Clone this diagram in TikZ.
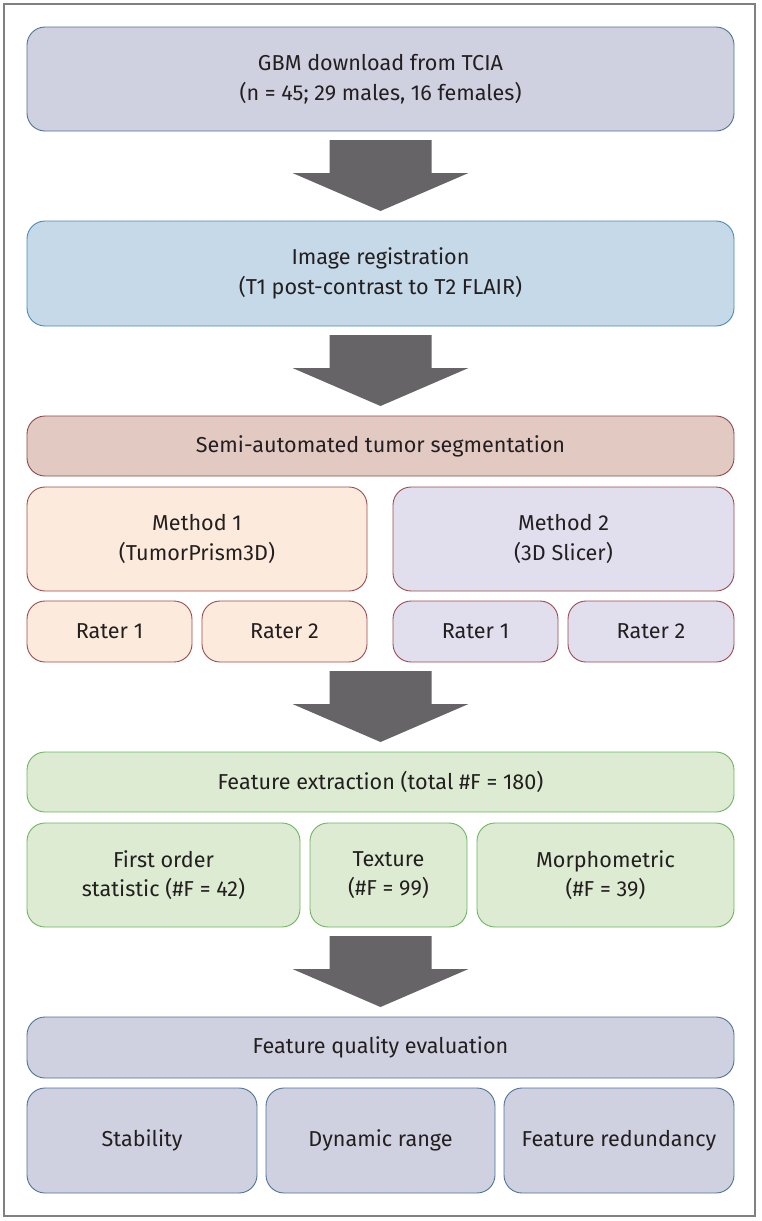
\documentclass[tikz,border=0pt]{standalone}
\usepackage{fontspec}
\setmainfont{Fira Sans}
\usetikzlibrary{calc}
\definecolor{bluegrayfill}{HTML}{CFD1E0}
\definecolor{bluegraydraw}{HTML}{4F7397}
\definecolor{lightbluefill}{HTML}{C6D9E8}
\definecolor{lightbluedraw}{HTML}{4A8AB5}
\definecolor{segfill}{HTML}{E2CAC3}
\definecolor{segdraw}{HTML}{8E4848}
\definecolor{peachfill}{HTML}{FCEADC}
\definecolor{lavfill}{HTML}{E1DFEE}
\definecolor{reddraw}{HTML}{9A4C4C}
\definecolor{greenfill}{HTML}{DCEBD1}
\definecolor{greendraw}{HTML}{6DB561}
\definecolor{arrowgray}{HTML}{666466}
\definecolor{framegray}{HTML}{808080}
\definecolor{textcol}{HTML}{231F20}
\tikzset{
  flowbox/.style={rounded corners=18pt, line width=0.9pt, inner sep=0pt, outer sep=0pt,
    align=center, text=textcol, font=\fontsize{21.6}{29.5}\selectfont, anchor=center},
  bgbox/.style={flowbox, fill=bluegrayfill, draw=bluegraydraw},
  lbbox/.style={flowbox, fill=lightbluefill, draw=lightbluedraw},
  segbox/.style={flowbox, fill=segfill, draw=segdraw},
  pbox/.style={flowbox, fill=peachfill, draw=reddraw},
  lbox/.style={flowbox, fill=lavfill, draw=reddraw},
  gbox/.style={flowbox, fill=greenfill, draw=greendraw},
}
\newcommand{\flowarrow}[2]{%
  \fill[arrowgray] ($(#1.south -| #2.north)+(-51,9)$) -- ($(#1.south -| #2.north)+(51,9)$)
    -- ($(#2.north)+(51,-48)$) -- ($(#2.north)+(88,-48)$) -- ($(#2.north)+(0,-10)$)
    -- ($(#2.north)+(-88,-48)$) -- ($(#2.north)+(-51,-48)$) -- cycle;}
\begin{document}
\begin{tikzpicture}[x=1pt,y=-1pt]
\useasboundingbox (0,0) rectangle (761,1221);
\draw[framegray, line width=1.5pt] (4,4) rectangle (755,1216);

\node[bgbox, minimum width=707pt, minimum height=104pt] (gbm) at (380.5,79)
  {GBM download from TCIA\\(n = 45; 29 males, 16 females)};
\node[lbbox, minimum width=707pt, minimum height=105pt] (reg) at (380.5,273.5)
  {Image registration\\(T1 post-contrast to T2 FLAIR)};
\node[segbox, minimum width=707pt, minimum height=60pt] (seg) at (380.5,446)
  {Semi-automated tumor segmentation};
\node[pbox, minimum width=340pt, minimum height=104pt] (m1) at (197,539)
  {Method 1\\(TumorPrism3D)};
\node[lbox, minimum width=341pt, minimum height=104pt] (m2) at (563.5,539)
  {Method 2\\(3D Slicer)};
\node[pbox, minimum width=165pt, minimum height=61pt] (r1a) at (109.5,631.5) {Rater 1};
\node[pbox, minimum width=165pt, minimum height=61pt] (r2a) at (284.5,631.5) {Rater 2};
\node[lbox, minimum width=165pt, minimum height=61pt] (r1b) at (475.5,631.5) {Rater 1};
\node[lbox, minimum width=166pt, minimum height=61pt] (r2b) at (651,631.5) {Rater 2};
\node[gbox, minimum width=707pt, minimum height=60pt] (fe) at (380.5,782)
  {Feature extraction (total \#F = 180)};
\node[gbox, minimum width=273pt, minimum height=104pt] (fo) at (163.5,875)
  {First order\\statistic (\#F = 42)};
\node[gbox, minimum width=157pt, minimum height=104pt] (tex) at (388.5,875)
  {Texture\\(\#F = 99)};
\node[gbox, minimum width=257pt, minimum height=104pt] (mor) at (605.5,875)
  {Morphometric\\(\#F = 39)};
\node[bgbox, minimum width=707pt, minimum height=61pt] (fq) at (380.5,1047.5)
  {Feature quality evaluation};
\node[bgbox, minimum width=230pt, minimum height=105pt] (stab) at (142,1140.5) {Stability};
\node[bgbox, minimum width=229pt, minimum height=105pt] (dyn) at (380.5,1140.5) {Dynamic range};
\node[bgbox, minimum width=230pt, minimum height=105pt] (red) at (619,1140.5) {Feature redundancy};

\flowarrow{gbm}{reg}
\flowarrow{reg}{seg}
\flowarrow{r2a}{fe}
\flowarrow{fo}{fq}
\end{tikzpicture}
\end{document}
